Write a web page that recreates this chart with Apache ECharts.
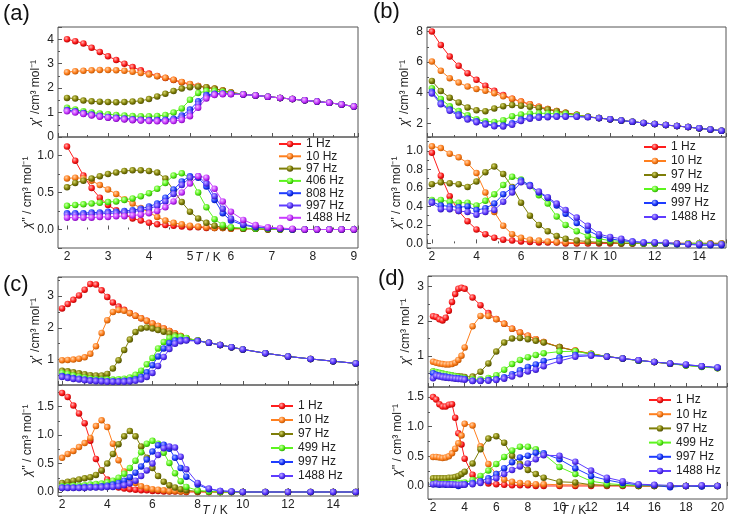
<!DOCTYPE html>
<html><head><meta charset="utf-8">
<script src="https://cdn.jsdelivr.net/npm/echarts@6/dist/echarts.min.js"></script>
<style>html,body{margin:0;padding:0;background:#fff}#c{width:729px;height:518px}</style>
</head><body><div id="c"></div>
<script>
// ---------------- DATA ----------------
// (a)
const tA = [2.0,2.2,2.4,2.6,2.8,3.0,3.2,3.4,3.6,3.8,4.0,4.2,4.4,4.6,4.8,5.0,5.2,5.4,5.6,5.8,6.0,6.3,6.6,6.9,7.2,7.5,7.8,8.1,8.4,8.7,9.0];
const namesA = ['1 Hz','10 Hz','97 Hz','406 Hz','808 Hz','997 Hz','1488 Hz'];
const aTop1    = [4.0,3.92,3.83,3.65,3.48,3.3,3.15,3.0,2.86,2.73,2.6,2.5,2.41,2.33,2.24,2.16,2.09,2.03,1.97,1.9,1.82,1.75,1.7,1.65,1.6,1.55,1.5,1.45,1.4,1.33,1.25];
const aTop10   = [2.65,2.69,2.71,2.73,2.74,2.74,2.73,2.71,2.67,2.62,2.56,2.49,2.42,2.34,2.25,2.17,2.09,2.03,1.97,1.9,1.82,1.75,1.7,1.65,1.6,1.55,1.5,1.45,1.4,1.33,1.25];
const aTop97   = [1.6,1.57,1.49,1.46,1.44,1.43,1.42,1.43,1.45,1.48,1.55,1.66,1.77,1.88,1.98,2.04,2.06,2.04,1.98,1.9,1.82,1.75,1.7,1.65,1.6,1.55,1.5,1.45,1.4,1.33,1.25];
const aTop406  = [1.2,1.12,1.05,1.0,0.96,0.93,0.9,0.88,0.86,0.85,0.85,0.86,0.9,1.0,1.17,1.52,1.8,1.88,1.88,1.84,1.79,1.75,1.7,1.65,1.6,1.55,1.5,1.45,1.4,1.33,1.25];
const aTop808  = [1.1,1.05,0.98,0.92,0.87,0.82,0.79,0.76,0.73,0.71,0.7,0.7,0.71,0.75,0.88,1.12,1.46,1.72,1.77,1.78,1.77,1.74,1.7,1.65,1.6,1.55,1.5,1.45,1.4,1.33,1.25];
const aTop997  = [1.08,1.03,0.96,0.9,0.85,0.8,0.77,0.74,0.71,0.69,0.68,0.67,0.68,0.71,0.8,0.98,1.35,1.66,1.75,1.77,1.76,1.74,1.7,1.65,1.6,1.55,1.5,1.45,1.4,1.33,1.25];
const aTop1488 = [1.05,1.0,0.94,0.88,0.83,0.79,0.75,0.72,0.69,0.67,0.65,0.64,0.64,0.65,0.7,0.85,1.2,1.58,1.72,1.75,1.75,1.74,1.7,1.65,1.6,1.55,1.5,1.45,1.4,1.33,1.25];
const aBot1    = [1.12,0.93,0.73,0.56,0.43,0.33,0.26,0.2,0.15,0.12,0.09,0.07,0.06,0.05,0.04,0.03,0.03,0.02,0.02,0.02,0.01,0.01,0.01,0.0,0.0,0.0,0.0,0.0,0.0,0.0,0.0];
const aBot10   = [0.69,0.7,0.69,0.66,0.6,0.54,0.48,0.41,0.35,0.29,0.23,0.17,0.12,0.09,0.07,0.05,0.04,0.03,0.02,0.02,0.01,0.01,0.01,0.0,0.0,0.0,0.0,0.0,0.0,0.0,0.0];
const aBot97   = [0.57,0.63,0.66,0.69,0.72,0.75,0.77,0.79,0.8,0.8,0.79,0.77,0.69,0.53,0.37,0.24,0.15,0.09,0.05,0.03,0.02,0.01,0.01,0.0,0.0,0.0,0.0,0.0,0.0,0.0,0.0];
const aBot406  = [0.32,0.33,0.34,0.35,0.36,0.37,0.38,0.4,0.42,0.45,0.49,0.55,0.63,0.73,0.76,0.7,0.5,0.3,0.14,0.06,0.03,0.02,0.01,0.01,0.0,0.0,0.0,0.0,0.0,0.0,0.0];
const aBot808  = [0.22,0.22,0.22,0.23,0.23,0.24,0.24,0.25,0.26,0.28,0.31,0.35,0.43,0.54,0.65,0.72,0.7,0.58,0.4,0.22,0.12,0.06,0.03,0.02,0.01,0.0,0.0,0.0,0.0,0.0,0.0];
const aBot997  = [0.2,0.2,0.2,0.21,0.21,0.22,0.22,0.23,0.24,0.26,0.28,0.32,0.38,0.48,0.6,0.7,0.72,0.62,0.45,0.28,0.15,0.07,0.04,0.02,0.01,0.0,0.0,0.0,0.0,0.0,0.0];
const aBot1488 = [0.16,0.16,0.16,0.16,0.17,0.17,0.18,0.18,0.19,0.2,0.22,0.25,0.3,0.38,0.5,0.62,0.72,0.7,0.55,0.38,0.24,0.13,0.06,0.03,0.02,0.01,0.0,0.0,0.0,0.0,0.0];

// (b)
const tB = [2.0,2.4,2.8,3.2,3.6,4.0,4.4,4.8,5.2,5.6,6.0,6.4,6.8,7.2,7.6,8.0,8.5,9.0,9.5,10.0,10.5,11.0,11.5,12.0,12.5,13.0,13.5,14.0,14.5,15.0];
const namesB = ['1 Hz','10 Hz','97 Hz','499 Hz','997 Hz','1488 Hz'];
const bTop1    = [8.0,7.12,6.37,5.76,5.28,4.84,4.46,4.13,3.85,3.6,3.42,3.24,3.08,2.93,2.8,2.68,2.55,2.42,2.34,2.26,2.18,2.1,2.02,1.95,1.88,1.82,1.75,1.67,1.59,1.51];
const bTop10   = [6.04,5.43,4.95,4.66,4.4,4.25,4.13,3.96,3.76,3.6,3.42,3.24,3.08,2.93,2.8,2.68,2.55,2.42,2.34,2.26,2.18,2.1,2.02,1.95,1.88,1.82,1.75,1.67,1.59,1.51];
const bTop97   = [4.77,4.11,3.67,3.36,3.03,2.85,2.79,2.97,3.12,3.19,3.15,3.08,3.0,2.9,2.79,2.68,2.55,2.42,2.34,2.26,2.18,2.1,2.02,1.95,1.88,1.82,1.75,1.67,1.59,1.51];
const bTop499  = [4.29,3.58,3.12,2.8,2.52,2.26,2.13,2.09,2.2,2.46,2.57,2.64,2.66,2.64,2.62,2.6,2.52,2.42,2.34,2.26,2.18,2.1,2.02,1.95,1.88,1.82,1.75,1.67,1.59,1.51];
const bTop997  = [4.07,3.33,2.9,2.57,2.31,2.13,1.98,1.85,1.85,2.0,2.25,2.38,2.42,2.45,2.46,2.46,2.44,2.41,2.34,2.26,2.18,2.1,2.02,1.95,1.88,1.82,1.75,1.67,1.59,1.51];
const bTop1488 = [3.95,3.25,2.82,2.48,2.24,2.07,1.92,1.8,1.79,1.9,2.15,2.3,2.36,2.4,2.42,2.43,2.42,2.4,2.33,2.26,2.18,2.1,2.02,1.95,1.88,1.82,1.75,1.67,1.59,1.51];
const bBot1    = [0.98,0.73,0.51,0.35,0.24,0.15,0.1,0.06,0.04,0.03,0.02,0.015,0.01,0.01,0.01,0.0,0.0,0.0,0.0,0.0,0.0,0.0,0.0,0.0,0.0,0.0,0.0,0.0,0.0,0.0];
const bBot10   = [1.05,1.03,0.97,0.93,0.87,0.76,0.55,0.34,0.19,0.1,0.06,0.04,0.03,0.02,0.015,0.01,0.01,0.01,0.01,0.01,0.0,0.0,0.0,0.0,0.0,0.0,0.0,0.0,0.0,0.0];
const bBot97   = [0.64,0.66,0.65,0.64,0.61,0.67,0.77,0.83,0.75,0.61,0.44,0.3,0.2,0.13,0.08,0.05,0.03,0.02,0.01,0.01,0.0,0.0,0.0,0.0,0.0,0.0,0.0,0.0,0.0,0.0];
const bBot499  = [0.47,0.47,0.45,0.44,0.44,0.41,0.46,0.53,0.63,0.72,0.69,0.62,0.52,0.43,0.29,0.2,0.13,0.08,0.05,0.03,0.02,0.01,0.0,0.0,0.0,-0.01,0.0,0.0,-0.01,-0.01];
const bBot997  = [0.45,0.41,0.4,0.39,0.4,0.36,0.38,0.43,0.53,0.6,0.68,0.63,0.55,0.49,0.41,0.32,0.22,0.14,0.08,0.05,0.03,0.02,0.01,0.01,0.0,-0.01,-0.01,-0.02,-0.02,-0.02];
const bBot1488 = [0.44,0.37,0.37,0.35,0.34,0.31,0.34,0.36,0.45,0.55,0.66,0.62,0.56,0.5,0.43,0.36,0.28,0.19,0.1,0.07,0.05,0.02,0.01,0.01,0.01,0.0,-0.01,-0.01,-0.01,-0.01];

// (c)
const tC = [2.0,2.25,2.5,2.75,3.0,3.25,3.5,3.75,4.0,4.25,4.5,4.75,5.0,5.25,5.5,5.75,6.0,6.25,6.5,6.75,7.0,7.25,7.5,8.0,8.5,9.0,9.5,10,11,12,13,14,15];
const namesC = ['1 Hz','10 Hz','97 Hz','499 Hz','997 Hz','1488 Hz'];
const cTop1    = [2.61,2.75,2.88,3.02,3.2,3.38,3.36,3.18,2.97,2.8,2.67,2.57,2.47,2.38,2.3,2.22,2.14,2.06,1.98,1.9,1.82,1.74,1.67,1.6,1.53,1.46,1.39,1.32,1.2,1.1,1.02,0.95,0.88];
const cTop10   = [0.98,0.99,1.0,1.03,1.07,1.18,1.42,1.84,2.24,2.5,2.56,2.54,2.46,2.38,2.3,2.22,2.14,2.06,1.98,1.9,1.82,1.74,1.67,1.6,1.53,1.46,1.39,1.32,1.2,1.1,1.02,0.95,0.88];
const cTop97   = [0.65,0.63,0.6,0.57,0.54,0.51,0.5,0.5,0.55,0.72,0.98,1.3,1.63,1.87,1.98,2.01,1.98,1.93,1.88,1.82,1.77,1.72,1.66,1.6,1.53,1.46,1.39,1.32,1.2,1.1,1.02,0.95,0.88];
const cTop499  = [0.58,0.55,0.5,0.46,0.43,0.4,0.38,0.37,0.37,0.37,0.38,0.4,0.44,0.52,0.65,0.85,1.05,1.35,1.55,1.68,1.72,1.72,1.68,1.6,1.53,1.46,1.39,1.32,1.2,1.1,1.02,0.95,0.88];
const cTop997  = [0.48,0.45,0.42,0.4,0.37,0.35,0.34,0.33,0.32,0.32,0.32,0.33,0.35,0.38,0.45,0.6,0.82,1.1,1.35,1.52,1.6,1.62,1.62,1.59,1.53,1.46,1.39,1.32,1.2,1.1,1.02,0.95,0.88];
const cTop1488 = [0.45,0.42,0.39,0.37,0.35,0.33,0.32,0.31,0.3,0.3,0.3,0.3,0.31,0.33,0.37,0.45,0.58,0.8,1.08,1.33,1.5,1.58,1.6,1.58,1.53,1.46,1.39,1.32,1.2,1.1,1.02,0.95,0.88];
const cBot1    = [1.74,1.67,1.52,1.38,1.21,0.9,0.58,0.38,0.22,0.13,0.08,0.06,0.05,0.04,0.03,0.03,0.02,0.02,0.01,0.01,0.01,0.01,0.0,0.0,0.0,0.0,0.0,0.0,0.0,0.0,0.0,0.0,0.0];
const cBot10   = [0.6,0.67,0.72,0.79,0.86,0.95,1.16,1.26,1.14,0.85,0.56,0.36,0.25,0.16,0.1,0.07,0.05,0.04,0.03,0.02,0.02,0.01,0.01,0.01,0.0,0.0,0.0,0.0,0.0,0.0,0.0,0.0,0.0];
const cBot97   = [0.16,0.18,0.2,0.22,0.24,0.26,0.3,0.38,0.5,0.67,0.84,0.98,1.07,0.98,0.8,0.6,0.42,0.28,0.18,0.12,0.08,0.05,0.03,0.01,0.01,0.0,0.0,0.0,0.0,0.0,0.0,0.0,0.0];
const cBot499  = [0.1,0.1,0.11,0.11,0.12,0.13,0.14,0.15,0.17,0.2,0.25,0.32,0.42,0.55,0.7,0.85,0.9,0.85,0.69,0.51,0.33,0.19,0.09,0.03,0.01,0.0,0.0,0.0,0.0,0.0,0.0,0.0,0.0];
const cBot997  = [0.08,0.08,0.08,0.08,0.09,0.09,0.09,0.1,0.11,0.13,0.16,0.2,0.26,0.34,0.45,0.57,0.71,0.82,0.83,0.76,0.6,0.42,0.27,0.13,0.05,0.02,0.01,0.0,0.0,0.0,0.0,0.0,0.0];
const cBot1488 = [0.07,0.07,0.07,0.07,0.07,0.08,0.08,0.08,0.09,0.09,0.1,0.12,0.15,0.2,0.28,0.38,0.5,0.65,0.77,0.8,0.78,0.62,0.4,0.16,0.06,0.02,0.01,0.0,0.0,0.0,0.0,0.0,0.0];

// (d)
const tD = [2.0,2.2,2.4,2.6,2.8,3.0,3.2,3.4,3.6,3.8,4.0,4.5,5.0,5.5,6.0,6.5,7.0,7.5,8.0,8.5,9.0,10,11,12,13,14,15,16,17,18,19,20];
const namesD = ['1 Hz','10 Hz','97 Hz','499 Hz','997 Hz','1488 Hz'];
const dTop1    = [2.14,2.12,2.05,2.02,2.1,2.3,2.55,2.78,2.93,2.96,2.93,2.68,2.46,2.23,2.06,1.92,1.78,1.67,1.58,1.48,1.4,1.25,1.15,1.06,0.98,0.92,0.87,0.82,0.77,0.73,0.69,0.65];
const dTop10   = [0.83,0.8,0.78,0.76,0.75,0.75,0.76,0.8,0.88,1.0,1.24,1.85,2.15,2.15,2.05,1.92,1.78,1.67,1.58,1.48,1.4,1.25,1.15,1.06,0.98,0.92,0.87,0.82,0.77,0.73,0.69,0.65];
const dTop97   = [0.55,0.52,0.5,0.48,0.46,0.44,0.43,0.42,0.41,0.4,0.39,0.4,0.54,0.78,1.12,1.38,1.5,1.51,1.48,1.43,1.38,1.25,1.14,1.05,0.98,0.92,0.86,0.82,0.77,0.73,0.69,0.65];
const dTop499  = [0.55,0.53,0.51,0.49,0.47,0.45,0.43,0.41,0.39,0.37,0.35,0.32,0.32,0.36,0.44,0.6,0.76,0.88,0.96,1.02,1.07,1.12,1.13,1.05,0.98,0.92,0.86,0.82,0.77,0.72,0.68,0.64];
const dTop997  = [0.5,0.45,0.43,0.41,0.4,0.38,0.37,0.36,0.35,0.34,0.33,0.28,0.28,0.3,0.32,0.38,0.47,0.58,0.68,0.75,0.85,0.95,1.02,1.02,0.98,0.92,0.87,0.82,0.78,0.74,0.7,0.66];
const dTop1488 = [0.35,0.42,0.4,0.38,0.37,0.36,0.35,0.34,0.33,0.32,0.31,0.27,0.27,0.28,0.3,0.34,0.4,0.47,0.55,0.6,0.7,0.85,0.97,1.0,0.97,0.92,0.87,0.82,0.78,0.75,0.7,0.66];
const dBot1    = [1.5,1.46,1.38,1.34,1.34,1.37,1.38,1.15,0.89,0.7,0.46,0.19,0.07,0.04,0.03,0.02,0.01,0.01,0.01,0.0,0.0,0.0,0.0,0.0,0.0,0.0,0.0,0.0,0.0,0.0,0.0,0.0];
const dBot10   = [0.49,0.49,0.48,0.47,0.48,0.5,0.55,0.63,0.72,0.85,1.05,1.02,0.67,0.37,0.2,0.11,0.07,0.05,0.04,0.03,0.03,0.02,0.02,0.02,0.01,0.01,0.0,0.0,0.0,0.0,0.0,0.0];
const dBot97   = [0.13,0.13,0.13,0.13,0.13,0.14,0.14,0.15,0.17,0.2,0.24,0.38,0.62,0.8,0.84,0.73,0.51,0.37,0.27,0.2,0.14,0.07,0.06,0.02,0.01,0.01,0.0,0.0,0.0,0.0,0.0,0.0];
const dBot499  = [0.04,0.04,0.04,0.04,0.04,0.04,0.05,0.05,0.05,0.05,0.06,0.1,0.17,0.26,0.37,0.49,0.6,0.66,0.66,0.62,0.54,0.32,0.2,0.08,0.04,0.02,0.01,0.01,0.0,0.0,0.0,0.0];
const dBot997  = [0.03,0.03,0.02,0.03,0.02,0.03,0.02,0.02,0.0,0.02,0.03,0.05,0.08,0.13,0.2,0.3,0.4,0.48,0.51,0.56,0.55,0.45,0.3,0.17,0.1,0.05,0.02,0.01,-0.02,0.0,-0.01,0.0];
const dBot1488 = [0.03,0.04,0.03,0.03,0.03,0.02,0.03,0.02,0.02,0.02,0.02,0.03,0.05,0.08,0.13,0.2,0.27,0.33,0.38,0.45,0.52,0.51,0.41,0.26,0.14,0.08,0.03,0.02,0.01,0.0,0.01,0.0];

// ---------------- STYLE ----------------
const FONT = '"Liberation Sans", Arial, Helvetica, sans-serif';
const COL = {
  red:    ['#ff1e1e', '#ffb0b0', '#b00000'],
  orange: ['#ff7f1e', '#ffd2a8', '#b85200'],
  olive:  ['#7e7e08', '#d8d870', '#4a4a00'],
  green:  ['#5cf51e', '#d0ffb0', '#2aa000'],
  blue:   ['#1e3cff', '#a8b4ff', '#0010a8'],
  violet: ['#5e3cff', '#c0b0ff', '#2a10b0'],
  magenta:['#c83cff', '#f0c0ff', '#8000b8']
};
function ball(c) {
  return {type:'radial', x:0.38, y:0.35, r:0.7,
    colorStops:[{offset:0,color:c[1]},{offset:0.55,color:c[0]},{offset:1,color:c[2]}]};
}
function mkSeries(prefix, gi, t, vals, name, col) {
  return {
    type:'line', name: prefix + '|' + name, xAxisIndex: gi, yAxisIndex: gi,
    data: t.map((x,i)=>[x, vals[i]]),
    symbol:'circle', symbolSize:6.5, showSymbol:true,
    lineStyle:{color:col[0], width:1},
    itemStyle:{color: ball(col), borderWidth:0},
    emphasis:{disabled:true}, animation:false, clip:true
  };
}

const grids = [
  {left:58,  top:27,  width:300, height:110},
  {left:58,  top:137, width:300, height:111},
  {left:427, top:27,  width:299, height:110},
  {left:427, top:137, width:299, height:111},
  {left:58,  top:277, width:300, height:108},
  {left:58,  top:385, width:300, height:113},
  {left:428, top:276, width:299, height:111},
  {left:428, top:387, width:299, height:113}
].map(g => Object.assign({show:true, borderColor:'#555', borderWidth:1, backgroundColor:'transparent'}, g));

const xr = [[1.78,9.1],[1.78,15.2],[1.82,15.1],[1.68,20.6]];
const xSplit = [7,7,7,9];
const yr = [[0,4.5],[-0.25,1.25],[1.1,8.3],[-0.05,1.15],[0.2,3.6],[-0.07,1.88],[0.1,3.3],[-0.22,1.67]];
const ySplit = [5,3,4,6,3,4,3,4];
const yDec = [0,1,0,1,0,1,0,1];
const yMinLbl = [true,false,false,false,false,false,false,false];
const yNamePad = [[0,22,0,0],[0,0,0,0],[0,22,0,0],[0,0,0,0],[0,0,0,0],[0,0,0,0],[0,0,0,0],[0,0,0,6]];
const xNamePad = [[0,0,0,0],[0,0,0,18],[0,0,0,14],[0,8,0,0]];
const xNameGap = [4,3,9,6];

const xAxes = [], yAxes = [];
for (let gi = 0; gi < 8; gi++) {
  const p = Math.floor(gi/2), bottom = gi % 2 === 1;
  xAxes.push({
    type:'value', gridIndex:gi, min:xr[p][0], max:xr[p][1], splitNumber:xSplit[p],
    axisLine:{show:false}, splitLine:{show:false},
    axisTick:{show:true, inside:true, length:4, lineStyle:{color:'#555'}},
    minorTick:{show:true, splitNumber:2, length:2, lineStyle:{color:'#555'}},
    axisLabel:{show:bottom, showMinLabel:false, showMaxLabel:false, margin:3, fontSize:12, color:'#222', fontFamily:FONT},
    name: bottom ? '{i|T} / K' : '', nameLocation:'middle', nameGap:xNameGap[p], nameMoveOverlap:false,
    nameTextStyle:{fontSize:12, color:'#222', fontFamily:FONT, padding:xNamePad[p],
      rich:{i:{fontStyle:'italic', fontSize:12, color:'#222', fontFamily:FONT}}}
  });
  yAxes.push({
    type:'value', gridIndex:gi, min:yr[gi][0], max:yr[gi][1], splitNumber:ySplit[gi],
    axisLine:{show:false}, splitLine:{show:false},
    axisTick:{show:true, inside:true, length:4, lineStyle:{color:'#555'}},
    minorTick:{show:true, splitNumber:2, length:2, lineStyle:{color:'#555'}},
    axisLabel:{showMinLabel:yMinLbl[gi], showMaxLabel:false, margin:4, fontSize:12, color:'#222', fontFamily:FONT,
      formatter: v => v.toFixed(yDec[gi])},
    name: bottom ? '{i|χ}\'\' / cm³ mol⁻¹' : '{i|χ}\' /cm³ mol⁻¹',
    nameLocation:'middle', nameGap: bottom ? (yDec[gi] ? 22 : 18) : 16,
    nameTextStyle:{fontSize:12, color:'#222', fontFamily:FONT, padding:yNamePad[gi],
      rich:{i:{fontStyle:'italic', fontSize:12, color:'#222', fontFamily:FONT}}}
  });
}

const colsA = [COL.red, COL.orange, COL.olive, COL.green, COL.blue, COL.violet, COL.magenta];
const colsB = [COL.red, COL.orange, COL.olive, COL.green, COL.blue, COL.violet];
const topA = [aTop1,aTop10,aTop97,aTop406,aTop808,aTop997,aTop1488];
const botA = [aBot1,aBot10,aBot97,aBot406,aBot808,aBot997,aBot1488];
const topB = [bTop1,bTop10,bTop97,bTop499,bTop997,bTop1488];
const botB = [bBot1,bBot10,bBot97,bBot499,bBot997,bBot1488];
const topC = [cTop1,cTop10,cTop97,cTop499,cTop997,cTop1488];
const botC = [cBot1,cBot10,cBot97,cBot499,cBot997,cBot1488];
const topD = [dTop1,dTop10,dTop97,dTop499,dTop997,dTop1488];
const botD = [dBot1,dBot10,dBot97,dBot499,dBot997,dBot1488];

const series = [];
function addPanel(prefix, gTop, t, names, cols, tops, bots) {
  names.forEach((n,i) => {
    series.push(mkSeries(prefix+'t', gTop, t, tops[i], n, cols[i]));
    series.push(mkSeries(prefix, gTop+1, t, bots[i], n, cols[i]));
  });
}
addPanel('a', 0, tA, namesA, colsA, topA, botA);
addPanel('b', 2, tB, namesB, colsB, topB, botB);
addPanel('c', 4, tC, namesC, colsB, topC, botC);
addPanel('d', 6, tD, namesD, colsB, topD, botD);

function legend(prefix, names, left, top, lh, gap) {
  return {
    data: names.map(n => prefix + '|' + n), orient:'vertical', left:left, top:top,
    padding:0, itemGap:gap, itemWidth:22, itemHeight:8, selectedMode:false,
    formatter: s => s.split('|')[1],
    textStyle:{fontSize:12, lineHeight:lh, color:'#222', fontFamily:FONT}
  };
}

const option = {
  backgroundColor:'#fff', animation:false,
  grid: grids, xAxis: xAxes, yAxis: yAxes, series: series,
  legend: [
    legend('a', namesA, 278, 138, 12, 0.3),
    legend('b', namesB, 643, 141, 12, 2),
    legend('c', namesC, 270, 400, 12, 2),
    legend('d', namesD, 648, 394, 12, 2.2)
  ],
  graphic: [
    {type:'text', left:3,   top:3,   style:{text:'(a)', fontSize:22, fontFamily:FONT, fill:'#111'}},
    {type:'text', left:373, top:1,   style:{text:'(b)', fontSize:22, fontFamily:FONT, fill:'#111'}},
    {type:'text', left:3,   top:274, style:{text:'(c)', fontSize:22, fontFamily:FONT, fill:'#111'}},
    {type:'text', left:378, top:268, style:{text:'(d)', fontSize:22, fontFamily:FONT, fill:'#111'}}
  ]
};
const chart = echarts.init(document.getElementById('c'), null, {renderer:'canvas'});
chart.setOption(option);
</script></body></html>
